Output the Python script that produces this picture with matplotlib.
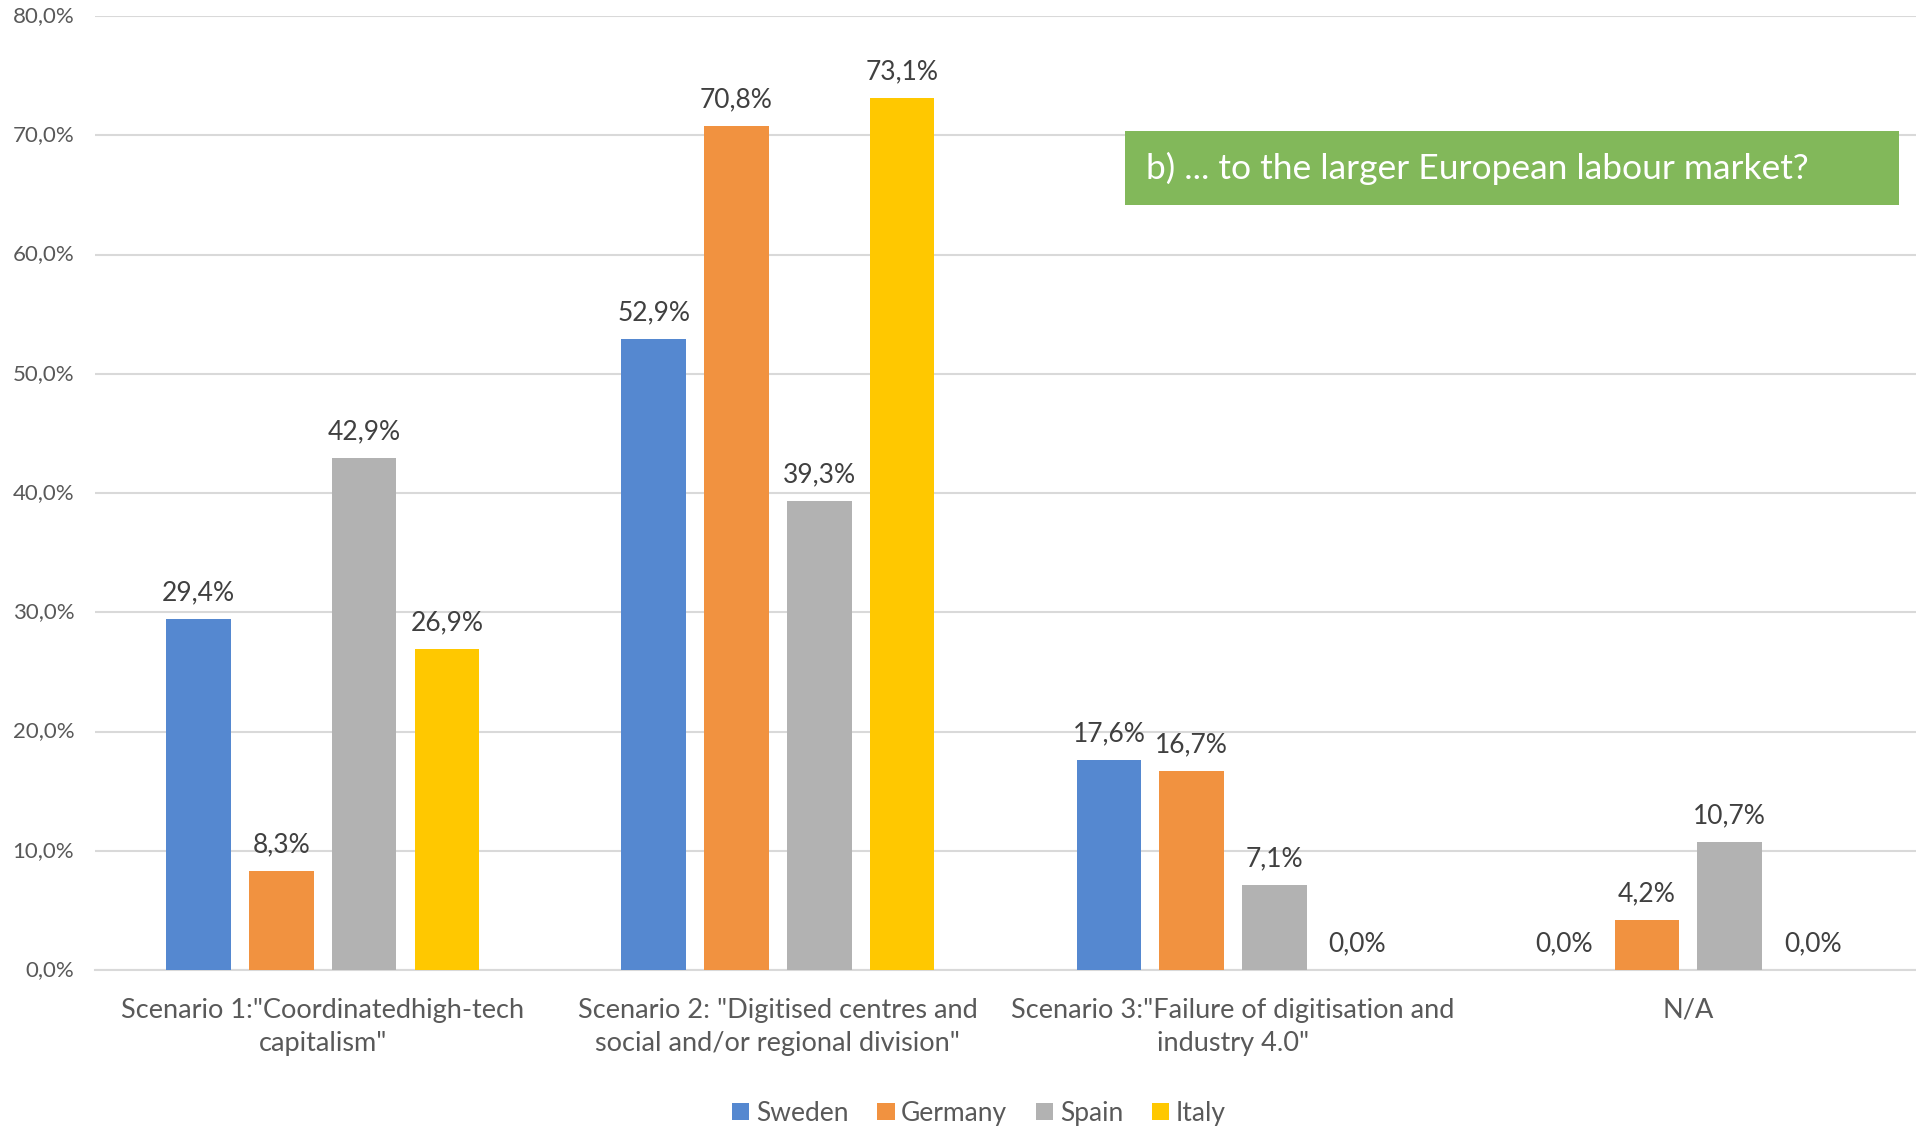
import matplotlib
matplotlib.use("Agg")
import matplotlib.pyplot as plt
from matplotlib.patches import Rectangle
import numpy as np

categories = ['Scenario 1:"Coordinatedhigh-tech\ncapitalism"',
              'Scenario 2: "Digitised centres and\nsocial and/or regional division"',
              'Scenario 3:"Failure of digitisation and\nindustry 4.0"',
              'N/A']
countries = ['Sweden', 'Germany', 'Spain', 'Italy']
sweden = [29.4, 52.9, 17.6, 0.0]
germany = [8.3, 70.8, 16.7, 4.2]
spain = [42.9, 39.3, 7.1, 10.7]
italy = [26.9, 73.1, 0.0, 0.0]
yticks = [0, 10, 20, 30, 40, 50, 60, 70, 80]
title_box = 'b) ... to the larger European labour market?'

colors = ['#5588D0', '#F19240', '#B2B2B2', '#FFC800']
text_color = '#595959'
font = ['Lato', 'DejaVu Sans']
plt.rcParams['font.family'] = font

fig = plt.figure(figsize=(19.16, 11.26), dpi=100)
ax = fig.add_axes([0.0496, 0.1385, 0.9504, 0.8473])

x = np.arange(len(categories))
slot = 0.182
bw = 0.142
series = [sweden, germany, spain, italy]
for i, (vals, c, name) in enumerate(zip(series, colors, countries)):
    pos = x + (i - 1.5) * slot
    bars = ax.bar(pos, vals, width=bw, color=c, label=name, zorder=3)
    for b, v in zip(bars, vals):
        ax.annotate(f'{v:.1f}%'.replace('.', ','),
                    (b.get_x() + b.get_width() / 2, v),
                    xytext=(0, 10), textcoords='offset points',
                    ha='center', va='bottom', fontsize=19, color='#404040')

ax.set_xlim(-0.5, 3.5)
ax.set_ylim(0, 80)
ax.set_yticks(yticks)
ax.set_yticklabels([f'{t:.1f}%'.replace('.', ',') for t in yticks],
                   fontsize=16, color=text_color)
ax.set_xticks(x)
ax.set_xticklabels(categories, fontsize=19.5, color=text_color, linespacing=1.4)
ax.tick_params(axis='both', length=0)
ax.tick_params(axis='x', pad=20)
ax.tick_params(axis='y', pad=15)
ax.grid(axis='y', color='#D9D9D9', linewidth=1.5, zorder=0)
for s in ['top', 'right', 'left']:
    ax.spines[s].set_visible(False)
ax.spines['bottom'].set_color('#D9D9D9')
ax.spines['bottom'].set_linewidth(1.5)
ax.set_axisbelow(True)
for lbl in ax.get_yticklabels():
    lbl.set_va('center')

# Question banner
fig.patches.append(Rectangle((0.587, 0.818), 0.404, 0.0657, transform=fig.transFigure,
                             facecolor='#82B85A', edgecolor='none', zorder=5))
fig.text(0.598, 0.818 + 0.0657 / 2, title_box, fontsize=25.5, color='white',
         va='center', ha='left', zorder=6)

leg = fig.legend(loc='lower center', bbox_to_anchor=(0.511, -0.021), ncol=4,
                 frameon=False, fontsize=19, handlelength=0.65, handleheight=0.65,
                 handletextpad=0.25, columnspacing=1.1)
for t in leg.get_texts():
    t.set_color(text_color)

fig.savefig('out.png', dpi=100)
